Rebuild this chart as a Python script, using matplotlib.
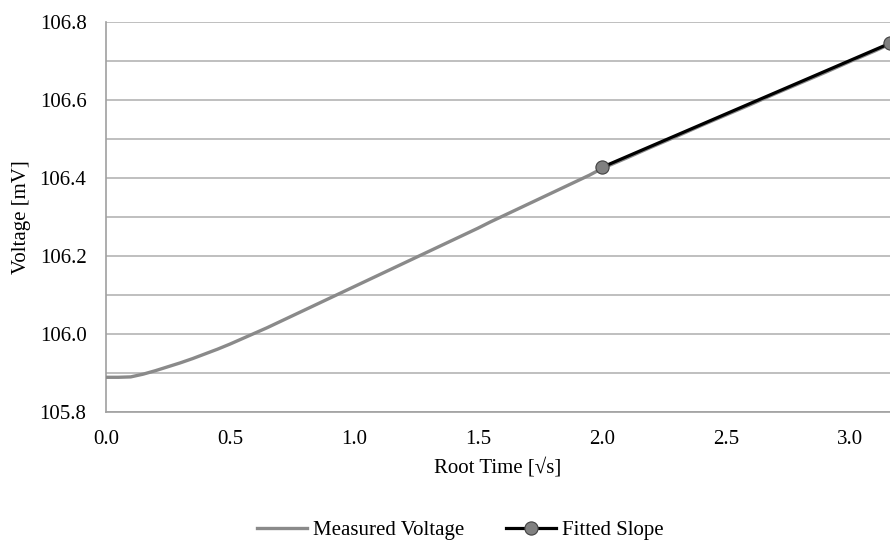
import numpy as np
import matplotlib
matplotlib.use("Agg")
import matplotlib.pyplot as plt

# measured voltage vs root time
root_time = [0.00, 0.05, 0.10, 0.15, 0.20, 0.25, 0.30, 0.35, 0.40, 0.45,
             0.50, 0.55, 0.60, 0.65, 0.70, 0.75, 0.80, 0.85, 0.90, 0.95,
             1.00, 1.05, 1.10, 1.15, 1.20, 1.25, 1.30, 1.35, 1.40, 1.45,
             1.50, 1.55, 1.60, 1.65, 1.70, 1.75, 1.80, 1.85, 1.90, 1.95,
             2.00, 2.10, 2.20, 2.30, 2.40, 2.50, 2.60, 2.70, 2.80, 2.90,
             3.00, 3.10, 3.162]
voltage = [105.889, 105.889, 105.890, 105.897, 105.906, 105.916, 105.926, 105.937, 105.949, 105.961,
           105.974, 105.988, 106.002, 106.016, 106.031, 106.046, 106.061, 106.076, 106.091, 106.106,
           106.121, 106.136, 106.151, 106.166, 106.181, 106.196, 106.211, 106.226, 106.241, 106.256,
           106.271, 106.287, 106.302, 106.317, 106.332, 106.347, 106.362, 106.377, 106.392, 106.407,
           106.424, 106.451, 106.479, 106.506, 106.534, 106.561, 106.588, 106.616, 106.643, 106.670,
           106.698, 106.725, 106.743]

# fitted slope end points
fit_x = [2.0, 3.162]
fit_y = [106.427, 106.745]

plt.rcParams['font.family'] = ['Liberation Serif', 'DejaVu Serif']
plt.rcParams['font.size'] = 15

fig = plt.figure(figsize=(8.9, 5.45), dpi=100)
ax = fig.add_axes([0.119, 0.244, 0.881, 0.716])

ax.plot(root_time, voltage, color='#8a8a8a', lw=2.4, label='Measured Voltage', zorder=3)
ax.plot(fit_x, fit_y, color='black', lw=2.3, marker='o', markersize=9.5,
        markerfacecolor='#808080', markeredgecolor='#404040', markeredgewidth=0.8,
        label='Fitted Slope', zorder=4, clip_on=False)

ax.set_xlim(0, 3.162)
ax.set_ylim(105.8, 106.8)
ax.set_xticks(np.arange(0, 3.01, 0.5))
ax.set_xticklabels(['%.1f' % v for v in np.arange(0, 3.01, 0.5)])
ax.set_yticks(np.arange(105.8, 106.81, 0.2))
ax.set_yticklabels(['%.1f' % v for v in np.arange(105.8, 106.81, 0.2)])
ax.set_yticks(np.arange(105.9, 106.8, 0.2), minor=True)
ax.grid(axis='y', which='both', color='#b4b4b4', lw=1.2)
ax.set_axisbelow(True)
ax.tick_params(which='both', length=0)
ax.tick_params(axis='x', pad=13)
ax.tick_params(axis='y', pad=14)

for s in ['top', 'right']:
    ax.spines[s].set_visible(False)
for s in ['left', 'bottom']:
    ax.spines[s].set_color('#a0a0a0')
    ax.spines[s].set_linewidth(1.2)

ax.set_xlabel('Root Time [\u221as]', labelpad=6)
ax.set_ylabel('Voltage [mV]', labelpad=6)

fig.legend(loc='center', bbox_to_anchor=(0.517, 0.027), ncol=2, frameon=False,
           handlelength=2.4, handletextpad=0.3, columnspacing=2.0)

fig.savefig('out.png', dpi=100)
